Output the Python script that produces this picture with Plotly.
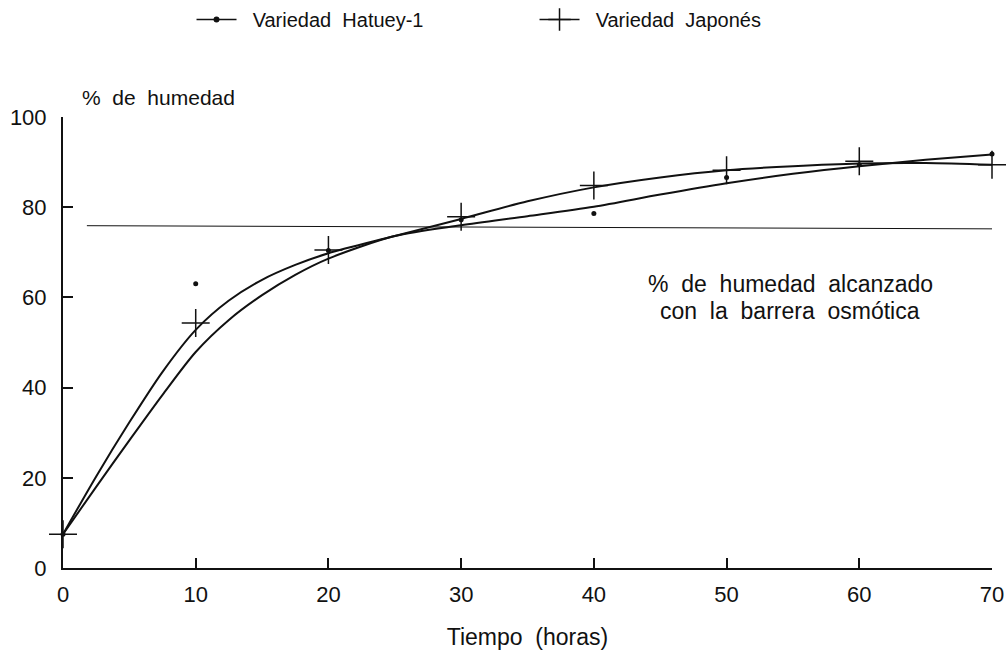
import plotly.graph_objects as go

# Measured data points
hours = [0, 10, 20, 30, 40, 50, 60, 70]
hatuey_pts = [7.5, 63.0, 70.4, 77.2, 78.6, 86.6, 89.4, 91.8]
japones_pts = [7.5, 54.3, 70.5, 77.9, 84.8, 88.2, 90.2, 89.4]

# Fitted curves
curve_x = [0, 2.5, 5, 7.5, 10, 12.5, 15, 17.5, 20, 25, 30, 35, 40, 45, 50, 55, 60, 65, 70]
hatuey_curve = [7.5, 18.0, 28.3, 38.4, 47.9, 55.0, 60.5, 65.0, 68.6, 73.6, 76.0, 78.0, 80.1,
                 82.8, 85.3, 87.4, 89.1, 90.5, 91.7]
japones_curve = [7.5, 20.3, 32.3, 43.5, 52.8, 59.3, 63.9, 67.2, 69.8, 73.6, 77.4, 81.3, 84.4,
                 86.6, 88.2, 89.1, 89.7, 89.8, 89.4]

# Reference level reached with the osmotic barrier
ref_x = [1.8, 70]
ref_y = [75.9, 75.2]

x_ticks = [0, 10, 20, 30, 40, 50, 60, 70]
y_ticks = [0, 20, 40, 60, 80, 100]

FONT = "Liberation Sans, Arial, Helvetica, sans-serif"
BLACK = "#111111"
SP = "\u00a0 "  # wide word spacing as in the original print


def wide(s):
    return s.replace(" ", SP)


fig = go.Figure()

fig.add_trace(go.Scatter(x=ref_x, y=ref_y, mode="lines",
                         line=dict(color=BLACK, width=1), showlegend=False))
fig.add_trace(go.Scatter(x=curve_x, y=hatuey_curve, mode="lines", line_shape="spline",
                         line=dict(color=BLACK, width=2, smoothing=0.8), showlegend=False))
fig.add_trace(go.Scatter(x=curve_x, y=japones_curve, mode="lines", line_shape="spline",
                         line=dict(color=BLACK, width=2, smoothing=0.8), showlegend=False))
fig.add_trace(go.Scatter(x=hours, y=hatuey_pts, mode="markers", cliponaxis=False,
                         marker=dict(symbol="circle", size=5, color=BLACK),
                         showlegend=False))
fig.add_trace(go.Scatter(x=hours, y=japones_pts, mode="markers", cliponaxis=False,
                         marker=dict(symbol="cross-thin", size=20, color=BLACK,
                                     line=dict(width=1.5, color=BLACK)),
                         showlegend=False))

# Legend entries
fig.add_trace(go.Scatter(x=[None], y=[None], mode="lines+markers",
                         name="\u00a0\u00a0" + wide("Variedad Hatuey-1"),
                         line=dict(color=BLACK, width=1.5),
                         marker=dict(symbol="circle", size=6, color=BLACK)))
fig.add_trace(go.Scatter(x=[None], y=[None], mode="lines+markers",
                         name="\u00a0\u00a0" + wide("Variedad Japonés"),
                         line=dict(color=BLACK, width=1.5),
                         marker=dict(symbol="cross-thin", size=22, color=BLACK,
                                     line=dict(width=1.5, color=BLACK))))

fig.add_annotation(x=54.8, y=62.97, xref="x", yref="y", showarrow=False,
                   text=wide("% de humedad alcanzado"),
                   font=dict(size=23, color=BLACK, family=FONT))
fig.add_annotation(x=54.8, y=56.98, xref="x", yref="y", showarrow=False,
                   text=wide("con la barrera osmótica"),
                   font=dict(size=23, color=BLACK, family=FONT))
fig.add_annotation(x=0.018, y=1.044, xref="paper", yref="paper", showarrow=False,
                   text=wide("% de humedad"), xanchor="left", yanchor="middle",
                   font=dict(size=21, color=BLACK, family=FONT))

fig.update_layout(
    width=1008, height=651,
    margin=dict(l=63, r=16, t=117, b=83, autoexpand=False),
    paper_bgcolor="white", plot_bgcolor="white",
    font=dict(family=FONT, size=20, color=BLACK),
    legend=dict(orientation="h", xref="container", yref="container",
                x=0.19, xanchor="left", y=1.0, yanchor="top",
                entrywidth=288, entrywidthmode="pixels",
                font=dict(size=20, color=BLACK, family=FONT), itemwidth=40),
    xaxis=dict(range=[0, 70], tickvals=x_ticks, ticks="inside", ticklen=10,
               tickwidth=1.5, tickcolor=BLACK, showline=True, linecolor=BLACK,
               linewidth=2, showgrid=False, zeroline=False, automargin=False,
               ticklabelstandoff=6,
               title=dict(text=wide("Tiempo (horas)"), font=dict(size=23), standoff=22),
               tickfont=dict(size=22)),
    yaxis=dict(range=[0, 100], tickvals=y_ticks, ticks="inside", ticklen=10,
               tickwidth=1.5, tickcolor=BLACK, showline=True, linecolor=BLACK,
               linewidth=2, showgrid=False, zeroline=False, automargin=False,
               ticklabelstandoff=10,
               tickfont=dict(size=22)),
)

# Remove the browser's default 8 px body margin so the figure fills the window exactly.
fig.write_html("out.html", config={"displayModeBar": False},
               post_script="document.body.style.margin='0';")
